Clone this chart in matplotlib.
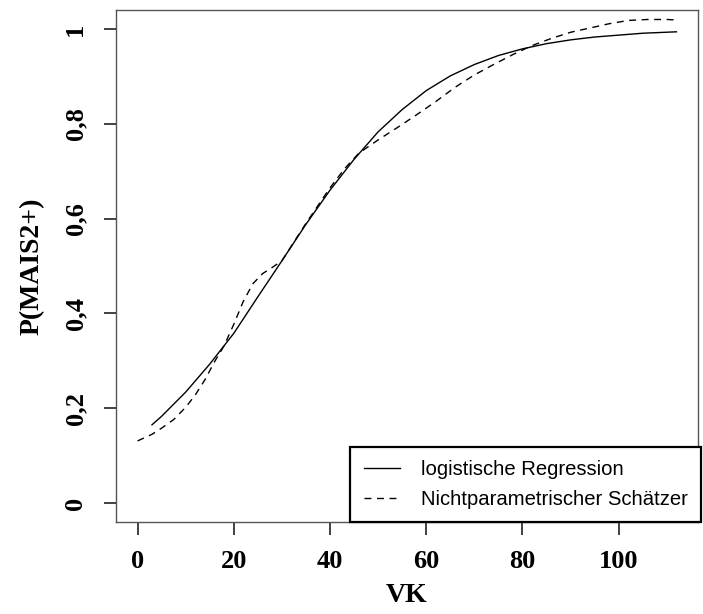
import matplotlib
matplotlib.use("Agg")
import matplotlib.pyplot as plt
from matplotlib.ticker import FixedLocator, FixedFormatter

# Data
logit_x = [3, 5, 10, 15, 20, 25, 30, 35, 40, 45, 50, 55, 60, 65, 70, 75, 80, 85, 90, 95, 100, 105, 112]
logit_y = [0.165, 0.183, 0.234, 0.293, 0.358, 0.435, 0.511, 0.588, 0.660, 0.725, 0.783, 0.830, 0.870,
           0.901, 0.925, 0.944, 0.958, 0.969, 0.977, 0.983, 0.987, 0.991, 0.994]

np_x = [0, 3, 5, 7.5, 10, 12, 14, 16, 18, 20, 22, 24, 26, 28, 30, 35, 40, 43, 46, 50, 54, 58,
        62, 66, 70, 74, 78, 82, 86, 90, 94, 98, 102, 106, 110, 112]
np_y = [0.131, 0.145, 0.158, 0.176, 0.202, 0.228, 0.260, 0.298, 0.332, 0.377, 0.426, 0.463, 0.484,
        0.497, 0.511, 0.590, 0.665, 0.705, 0.738, 0.766, 0.792, 0.819, 0.847, 0.877, 0.903, 0.925,
        0.946, 0.965, 0.980, 0.993, 1.002, 1.011, 1.018, 1.020, 1.020, 1.019]

x_ticks = [0, 20, 40, 60, 80, 100]
x_tick_labels = ["0", "20", "40", "60", "80", "100"]
y_ticks = [0, 0.2, 0.4, 0.6, 0.8, 1.0]
y_tick_labels = ["0", "0,2", "0,4", "0,6", "0,8", "1"]

legend_labels = ["logistische Regression", "Nichtparametrischer Schätzer"]
x_label = "VK"
y_label = "P(MAIS2+)"

fig = plt.figure(figsize=(7.03, 6.14), dpi=100)
ax = fig.add_axes([116 / 703, 1 - 522 / 614, (698 - 116) / 703, (522 - 10) / 614])

l1, = ax.plot(logit_x, logit_y, color="black", lw=1.0, label=legend_labels[0])
l2, = ax.plot(np_x, np_y, color="black", lw=1.0, linestyle=(0, (5, 4)), label=legend_labels[1])

ax.set_xlim(-4.48, 116.48)
ax.set_ylim(-0.04, 1.04)

serif = {"family": "Liberation Serif", "weight": "bold", "size": 20}

ax.xaxis.set_major_locator(FixedLocator(x_ticks))
ax.xaxis.set_major_formatter(FixedFormatter(x_tick_labels))
ax.yaxis.set_major_locator(FixedLocator(y_ticks))
ax.yaxis.set_major_formatter(FixedFormatter(y_tick_labels))

for lab in ax.get_xticklabels():
    lab.set_fontfamily("Liberation Serif")
    lab.set_fontweight("bold")
    lab.set_fontsize(19)
for lab in ax.get_yticklabels():
    lab.set_fontfamily("Liberation Serif")
    lab.set_fontweight("bold")
    lab.set_fontsize(19)
    lab.set_rotation(90)
    lab.set_verticalalignment("center")

ax.tick_params(axis="both", direction="out", length=9, width=1.3, color="#333333")
ax.tick_params(axis="x", pad=11)
ax.tick_params(axis="y", pad=12)

for s in ax.spines.values():
    s.set_color("#555555")
    s.set_linewidth(1.0)

ax.set_xlabel(x_label, fontdict=serif, labelpad=7)
ax.set_ylabel(y_label, fontdict=serif, labelpad=14)

leg = ax.legend(handles=[l1, l2], loc="lower right", bbox_to_anchor=(1.005, 0.0),
                borderaxespad=0, frameon=True, fancybox=False, shadow=False,
                prop={"family": "Liberation Sans", "size": 14.6},
                handlelength=1.8, handletextpad=1.0, labelspacing=0.5,
                borderpad=0.66)
fr = leg.get_frame()
fr.set_edgecolor("black")
fr.set_linewidth(1.6)
fr.set_alpha(1.0)

fig.savefig("out.png", dpi=100)
